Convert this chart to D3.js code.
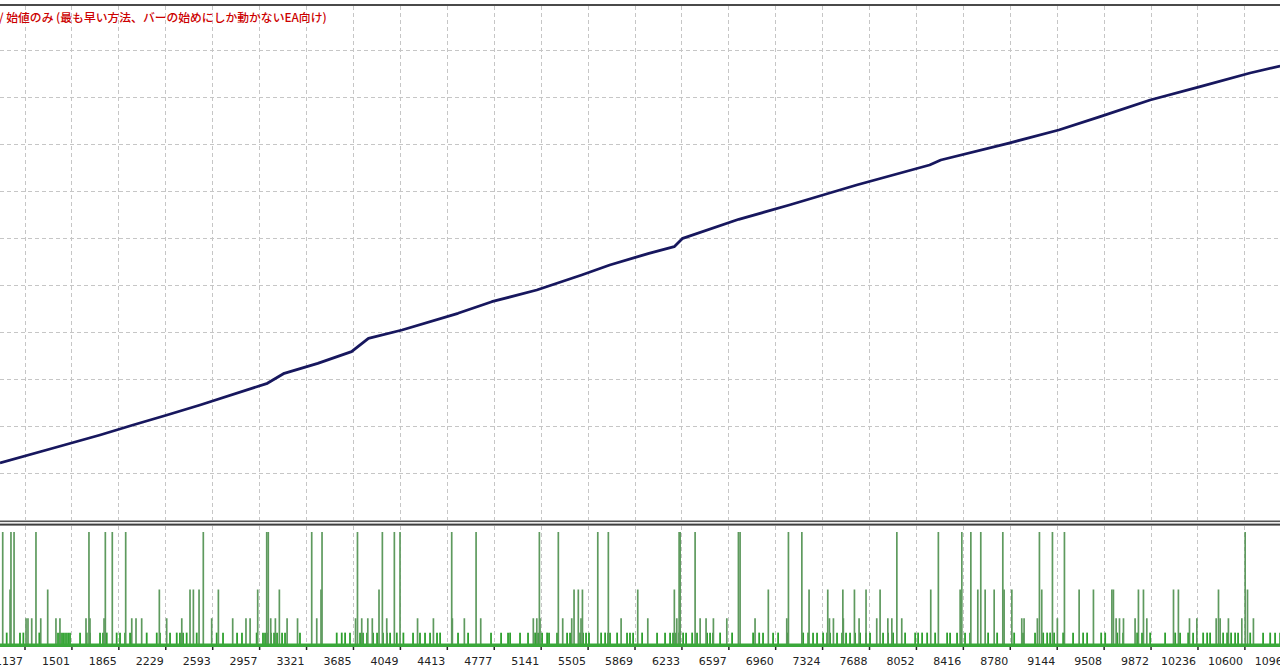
<!DOCTYPE html>
<html>
<head>
<meta charset="utf-8">
<script src="https://cdn.jsdelivr.net/npm/d3@7"></script>
<style>
  html, body { margin: 0; padding: 0; background: #ffffff; overflow: hidden; }
  svg { display: block; }
</style>
</head>
<body>
<svg id="chart" width="1280" height="669"></svg>
<script>
// ---------------- DATA ----------------
const headerText = "/ 始値のみ (最も早い方法、バーの始めにしか動かないEA向け)";

const tradeTicks = [1137,1501,1865,2229,2593,2957,3321,3685,4049,4413,4777,5141,5505,5869,6233,6597,6960,7324,7688,8052,8416,8780,9144,9508,9872,10236,10600,10964];

// balance curve: trade number -> balance (y axis labels are cropped; values read on the grid)
const balanceTrades = [947,1335,1723,1979,2243,2499,3021,3152,3412,3674,3805,4066,4500,4762,5111,5459,5677,5981,6177,6243,6678,7070,7592,8158,8245,8767,9160,9481,9869,10257,10644,10877];
const balanceValues = [10426,11021,11617,12043,12468,12894,13817,14243,14668,15162,15732,16085,16796,17289,17787,18426,18851,19349,19630,19987,20796,21404,22255,23106,23319,24030,24596,25162,25872,26438,27021,27319];

// lot sizes per trade (trade numbers grouped by lot)
const lots08 = [968,1032,1056,1226,1637,1764,1818,1922,2524,3016,3028,3365,3445,3720,3913,4006,4050,4451,4640,5131,5278,5584,5666,6215,6223,6339,6675,6688,7063,7167,7904,8226,8408,8478,8555,8726,9010,9111,9204,10606];
const lots04 = [1025,1317,2183,2421,2447,2491,2641,2946,3114,3437,3887,5400,5433,5465,5894,6178,6907,7223,7368,7485,7575,7665,7774,8167,8395,8532,8589,8659,8736,8796,9028,9318,9429,9572,9584,9778,9817,10050,10088,10399,10624];
const lots02 = [1149,1164,1193,1263,1381,1412,1614,1645,1754,1969,2002,2046,2240,2357,2589,2752,2855,2887,3047,3083,3174,3255,3404,3705,3753,3800,3835,3947,4186,4309,4456,4549,4676,5084,5111,5136,5312,5382,5454,5765,5972,6197,6378,6424,6481,6585,6804,7050,7381,7412,7489,7611,7748,7834,7865,7942,8873,8891,8994,9149,9605,9631,9662,9752,9843,10174,10231,10381,10412,10476,10580,10670];
const lots01 = [999,1102,1128,1252,1397,1412,1428,1443,1459,1475,1490,1568,1620,1645,1723,1746,1775,1852,1878,1917,1956,2085,2163,2188,2266,2318,2343,2367,2395,2473,2628,2677,2786,2824,2938,2987,3003,3026,3049,3073,3096,3135,3158,3274,3559,3598,3624,3662,3740,3763,3794,3841,3872,3918,3949,3973,4025,4076,4151,4205,4244,4283,4337,4361,4500,4578,4756,4834,4888,4904,4981,5043,5098,5121,5152,5191,5206,5268,5346,5369,5447,5470,5493,5516,5610,5641,5664,5679,5734,5811,5834,5858,5928,6044,6106,6145,6168,6191,6215,6246,6269,6316,6354,6432,6455,6478,6533,6626,6789,6836,6866,6944,6983,7053,7177,7216,7254,7285,7332,7363,7386,7440,7479,7510,7541,7580,7619,7665,7696,7797,7836,7875,7968,8046,8069,8100,8139,8201,8294,8317,8371,8402,8433,8472,8612,8682,8814,8883,8976,9039,9070,9093,9124,9194,9271,9349,9380,9489,9520,9613,9659,9768,9806,9869,9985,10063,10101,10164,10202,10280,10311,10334,10435,10466,10497,10528,10551,10645,10745,10800,10838,10877];
const lotLevels = [0.01, 0.02, 0.04, 0.08];

const balanceGrid = [10000,12000,14000,16000,18000,20000,22000,24000,26000,28000];

// ---------------- DRAW ----------------
const W = 1280, H = 669;
const svg = d3.select("#chart");

const x = d3.scaleLinear().domain([1137, 10600]).range([24.5, 1244.4]);
const y = d3.scaleLinear().domain([10000, 30000]).range([473, 3]);
const yLots = d3.scaleLinear().domain([0, 0.08]).range([647, 532]);

const gridColor = "#c6c6c6";
const dash = "4,3";

// main panel grid
const gMain = svg.append("g");
gMain.selectAll("line.h").data(balanceGrid).join("line")
  .attr("x1", 0).attr("x2", W)
  .attr("y1", d => Math.round(y(d)) + 0.5).attr("y2", d => Math.round(y(d)) + 0.5)
  .attr("stroke", gridColor).attr("stroke-width", 1).attr("stroke-dasharray", dash);
gMain.selectAll("line.v").data(tradeTicks).join("line")
  .attr("x1", d => Math.round(x(d)) + 0.5).attr("x2", d => Math.round(x(d)) + 0.5)
  .attr("y1", 6).attr("y2", 520)
  .attr("stroke", gridColor).attr("stroke-width", 1).attr("stroke-dasharray", dash);

// lower panel vertical grid
svg.append("g").selectAll("line").data(tradeTicks).join("line")
  .attr("x1", d => Math.round(x(d)) + 0.5).attr("x2", d => Math.round(x(d)) + 0.5)
  .attr("y1", 526).attr("y2", 646)
  .attr("stroke", gridColor).attr("stroke-width", 1).attr("stroke-dasharray", dash);

// top frame line
svg.append("rect").attr("x", 0).attr("y", 4).attr("width", W).attr("height", 2).attr("fill", "#4a4a4a");

// header text
svg.append("text")
  .attr("x", -1).attr("y", 21.5)
  .attr("font-family", "'Noto Sans CJK JP', 'Noto Sans', sans-serif")
  .attr("font-size", 11.8)
  .attr("font-weight", 500)
  .attr("fill", "#cc0000")
  .text(headerText);

// balance line
const pts = balanceTrades.map((t, i) => [t, balanceValues[i]]);
svg.append("path")
  .datum(pts)
  .attr("fill", "none")
  .attr("stroke", "#17175e")
  .attr("stroke-width", 2.8)
  .attr("stroke-linejoin", "round")
  .attr("d", d3.line().x(d => x(d[0])).y(d => y(d[1])));

// separator (double line)
svg.append("rect").attr("x", 0).attr("y", 520.5).attr("width", W).attr("height", 1.6).attr("fill", "#555");
svg.append("rect").attr("x", 0).attr("y", 523.6).attr("width", W).attr("height", 2).attr("fill", "#3e3e3e");

// lots bars
const barGroups = [lots01, lots02, lots04, lots08];
const gBars = svg.append("g");
barGroups.forEach((arr, gi) => {
  gBars.append("g").selectAll("line").data(arr).join("line")
    .attr("x1", d => x(d)).attr("x2", d => x(d))
    .attr("y1", yLots(0)).attr("y2", yLots(lotLevels[gi]))
    .attr("stroke", gi === 0 ? "#2ea02e" : "#5e9a5e")
    .attr("stroke-width", gi === 0 ? 1.8 : 1.7);
});
// green base band of the smallest lots
svg.append("rect").attr("x", 0).attr("y", 643.5).attr("width", W).attr("height", 3.5).attr("fill", "#3aa83a");

// bottom axis
const axis = d3.axisBottom(x).tickValues(tradeTicks).tickSize(3).tickFormat(d => String(d));
const gAxis = svg.append("g").attr("transform", "translate(0,647)").call(axis);
gAxis.select(".domain").remove();
gAxis.selectAll(".tick line").attr("stroke", "#222").attr("stroke-width", 1.5);
gAxis.selectAll(".tick text")
  .attr("text-anchor", "end")
  .attr("x", -2)
  .attr("y", 0)
  .attr("dy", 0)
  .attr("transform", "translate(0,17.5)")
  .attr("font-family", "'DejaVu Sans', Verdana, sans-serif")
  .attr("font-size", 11)
  .attr("fill", "#222");
</script>
</body>
</html>
